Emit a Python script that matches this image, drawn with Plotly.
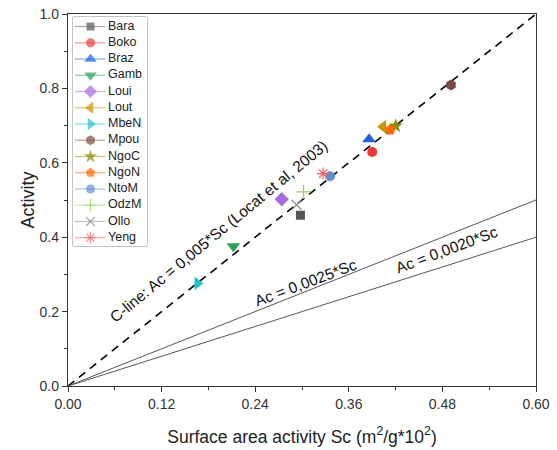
import plotly.graph_objects as go

names = ["Bara", "Boko", "Braz", "Gamb", "Loui", "Lout", "MbeN", "Mpou",
         "NgoC", "NgoN", "NtoM", "OdzM", "Ollo", "Yeng"]
sc = [0.298, 0.390, 0.386, 0.212, 0.274, 0.404, 0.166, 0.491,
      0.420, 0.413, 0.336, 0.302, 0.293, 0.327]
ac = [0.459, 0.629, 0.663, 0.376, 0.502, 0.697, 0.276, 0.809,
      0.699, 0.688, 0.564, 0.522, 0.487, 0.571]
colors = ["#555555", "#F03A3A", "#1F62E0", "#2EA05E", "#A66BE0", "#C99400",
          "#1FC4C8", "#7A4B45", "#8C8C00", "#FF6A00", "#5E90CF", "#8ED650",
          "#808080", "#FF5A5A"]
legend_line = ["#AAAAAA", "#F7A0A0", "#8FB0F0", "#96D0AE", "#D2B5F0", "#E4C980",
               "#8FE2E4", "#BCA5A2", "#C5C580", "#FFB480", "#AEC7E7", "#C6EAA7",
               "#C0C0C0", "#FFACAC"]
symbols = ["square", "circle", "triangle-up", "triangle-down", "diamond",
           "triangle-left", "triangle-right", "hexagon", "star", "pentagon",
           "circle", "cross-thin", "x-thin", "asterisk"]
sizes = [9, 10, 12, 12, 11, 12, 12, 11, 11, 11, 10, 10, 10, 10]

line_x = [0.0, 0.60]
c_line = [0.0, 1.0]
line_25 = [0.0, 0.50]
line_20 = [0.0, 0.40]

open_syms = ("cross-thin", "x-thin", "asterisk")

fig = go.Figure()
fig.add_trace(go.Scatter(x=line_x, y=c_line, mode="lines", showlegend=False,
                         line=dict(color="black", width=1.6, dash="8px,6px")))
fig.add_trace(go.Scatter(x=line_x, y=line_25, mode="lines", showlegend=False,
                         line=dict(color="#555555", width=1)))
fig.add_trace(go.Scatter(x=line_x, y=line_20, mode="lines", showlegend=False,
                         line=dict(color="#555555", width=1)))

for n, x, y, c, s, z in zip(names, sc, ac, colors, symbols, sizes):
    is_open = s in open_syms
    fig.add_trace(go.Scatter(
        x=[x], y=[y], mode="markers", name=n, showlegend=False,
        marker=dict(symbol=s, color=c, size=z,
                    line=dict(color=c, width=1.2 if is_open else 0))))

# custom legend drawn on its own small axes (pixel-like units inside the box)
row_step = 16.25
rows = [9.5 + i * row_step for i in range(len(names))]
for yrow, lc in zip(rows, legend_line):
    fig.add_trace(go.Scatter(x=[2, 32], y=[yrow, yrow], mode="lines",
                             xaxis="x2", yaxis="y2", showlegend=False,
                             hoverinfo="skip", line=dict(color=lc, width=1.3)))
fig.add_trace(go.Scatter(
    x=[17.5] * len(names), y=rows, mode="markers", xaxis="x2", yaxis="y2",
    showlegend=False, hoverinfo="skip",
    marker=dict(symbol=symbols, color=colors,
                size=[z - 1 for z in sizes],
                line=dict(color=colors,
                          width=[1.2 if s in open_syms else 0 for s in symbols]))))
font = "Liberation Sans, Arial, sans-serif"
fig.add_trace(go.Scatter(
    x=[35] * len(names), y=rows, mode="text", text=names,
    textposition="middle right", xaxis="x2", yaxis="y2", showlegend=False,
    hoverinfo="skip", textfont=dict(family=font, size=12.5, color="#222222")))
fig.add_shape(type="rect", xref="x2 domain", yref="y2 domain",
              x0=0, x1=1, y0=0, y1=1, layer="below",
              line=dict(color="#888888", width=1), fillcolor="white")

fig.add_annotation(x=0.193, y=0.414, xref="x", yref="y",
                   text="C-line: Ac = 0,005*Sc (Locat et al, 2003)",
                   textangle=-39.5, showarrow=False,
                   font=dict(family=font, size=15.5, color="#111111"))
fig.add_annotation(x=0.305, y=0.278, xref="x", yref="y",
                   text="Ac = 0,0025*Sc", textangle=-20.5, showarrow=False,
                   font=dict(family=font, size=15.5, color="#111111"))
fig.add_annotation(x=0.486, y=0.366, xref="x", yref="y",
                   text="Ac = 0,0020*Sc", textangle=-20.5, showarrow=False,
                   font=dict(family=font, size=15.5, color="#111111"))

axis_common = dict(showgrid=False, zeroline=False, showline=True,
                   linecolor="#333333", linewidth=1.3, mirror=True,
                   ticks="outside", ticklen=5, tickwidth=1.2, tickcolor="#333333",
                   automargin=False,
                   tickfont=dict(family=font, size=14, color="#333333"))

fig.update_layout(
    width=557, height=450,
    margin=dict(l=68, r=21, t=14, b=64),
    plot_bgcolor="white", paper_bgcolor="white",
    xaxis=dict(range=[0, 0.60], tickvals=[0, 0.12, 0.24, 0.36, 0.48, 0.60],
               ticktext=["0.00", "0.12", "0.24", "0.36", "0.48", "0.60"],
               minor=dict(dtick=0.06, ticks="outside", ticklen=3, tickcolor="#333333"),
               title=dict(text="Surface area activity Sc (m<sup>2</sup>/g*10<sup>2</sup>)",
                          font=dict(family=font, size=17.5, color="#222222"), standoff=19),
               **axis_common),
    yaxis=dict(range=[0, 1.0], tickvals=[0, 0.2, 0.4, 0.6, 0.8, 1.0],
               ticktext=["0.0", "0.2", "0.4", "0.6", "0.8", "1.0"],
               minor=dict(dtick=0.1, ticks="outside", ticklen=3, tickcolor="#333333"),
               title=dict(text="Activity", font=dict(family=font, size=18, color="#222222"),
                          standoff=0),
               **axis_common),
    xaxis2=dict(domain=[5 / 468, 79 / 468], range=[0, 74], anchor="y2",
                visible=False, fixedrange=True),
    yaxis2=dict(domain=[140 / 372, 369 / 372], range=[229, 0], anchor="x2",
                visible=False, fixedrange=True),
)

fig.write_html("out.html")
